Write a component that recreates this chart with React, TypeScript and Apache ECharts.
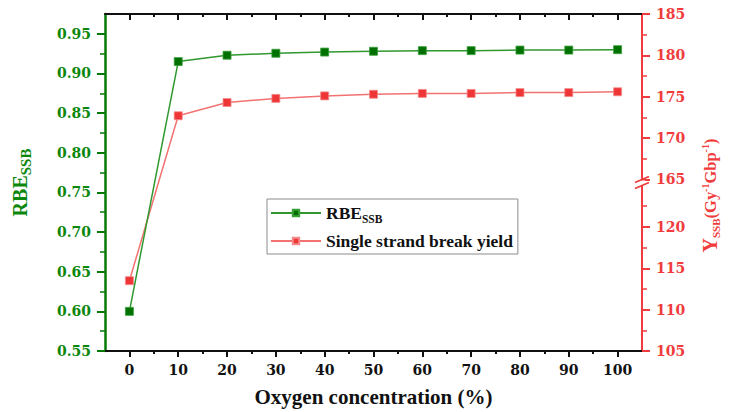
import React, { useEffect, useRef } from "react";
import * as echarts from "echarts";

// ---- data ----
const oxygen = [0, 10, 20, 30, 40, 50, 60, 70, 80, 90, 100];
const rbeSSB = [0.6, 0.915, 0.923, 0.9255, 0.927, 0.928, 0.9288, 0.9288, 0.9295, 0.9295, 0.93];
const ssbYield = [113.5, 172.7, 174.3, 174.8, 175.1, 175.3, 175.4, 175.4, 175.5, 175.5, 175.6];

// ---- ticks ----
const xMajorTicks = [0, 10, 20, 30, 40, 50, 60, 70, 80, 90, 100];
const xMinorTicks = [5, 15, 25, 35, 45, 55, 65, 75, 85, 95];
const leftMajorTicks = [0.55, 0.6, 0.65, 0.7, 0.75, 0.8, 0.85, 0.9, 0.95];
const leftMinorTicks = [0.575, 0.625, 0.675, 0.725, 0.775, 0.825, 0.875, 0.925];
const rightMajorTicks = [105, 110, 115, 120, 165, 170, 175, 180, 185];
const rightMinorTicks = [107.5, 112.5, 117.5, 122.5, 167.5, 172.5, 177.5, 182.5];
const rightBreakStart = 125;
const rightBreakEnd = 165;

const GREEN = "#0b870b";
const GREEN_AXIS = "#067a06";
const RED = "#f03c3c";
const TICK_FONT = "DejaVu Serif";
const SERIF = "Liberation Serif";

export default function App() {
  const ref = useRef<HTMLDivElement>(null);
  useEffect(() => {
    document.body.style.margin = "0";
    const chart = echarts.init(ref.current!, undefined, { renderer: "svg" });
    const xBase = {
      type: "value",
      min: -5,
      max: 105,
      splitLine: { show: false },
    };
    const rightBreaks = [{ start: rightBreakStart, end: rightBreakEnd, gap: "1.8%" }];
    const option: any = {
      animation: false,
      backgroundColor: "#ffffff",
      grid: { left: 105, right: 88, top: 14, bottom: 57 },
      legend: {
        orient: "vertical",
        left: 267,
        top: 199,
        itemWidth: 50,
        itemHeight: 8,
        itemGap: 7,
        padding: [5, 5, 4, 3],
        borderColor: "#8c8c8c",
        borderWidth: 1,
        data: ["RBE_SSB", "Single strand break yield"],
        formatter: (name: string) =>
          name === "RBE_SSB" ? "{a|RBE}{b|SSB}" : "{a|" + name + "}",
        textStyle: {
          color: "#111",
          rich: {
            a: { fontFamily: SERIF, fontWeight: "bold", fontSize: 17.5, lineHeight: 18, verticalAlign: "top", color: "#111" },
            b: { fontFamily: SERIF, fontWeight: "bold", fontSize: 11.5, lineHeight: 12, verticalAlign: "top", padding: [9, 0, 0, 0], color: "#111" },
          },
        },
      },
      xAxis: [
        {
          ...xBase,
          position: "bottom",
          name: "Oxygen concentration (%)",
          nameLocation: "middle",
          nameGap: 35,
          nameTextStyle: { fontFamily: SERIF, fontWeight: "bold", fontSize: 21, color: "#111" },
          axisLine: { show: true, onZero: false, lineStyle: { color: "#111", width: 2 } },
          axisTick: { show: true, length: 6, lineStyle: { color: "#111", width: 2 }, customValues: xMajorTicks },
          axisLabel: { show: true, margin: 12, fontFamily: TICK_FONT, fontWeight: "bold", fontSize: 14, color: "#111", customValues: xMajorTicks },
        },
        {
          ...xBase,
          position: "bottom",
          axisLine: { show: false, onZero: false },
          axisTick: { show: true, length: 3, lineStyle: { color: "#111", width: 2 }, customValues: xMinorTicks },
          axisLabel: { show: false },
        },
        {
          ...xBase,
          position: "top",
          axisLine: { show: true, onZero: false, lineStyle: { color: "#111", width: 2 } },
          axisTick: { show: true, inside: true, length: 6, lineStyle: { color: "#111", width: 2 }, customValues: xMajorTicks },
          axisLabel: { show: false },
        },
        {
          ...xBase,
          position: "top",
          axisLine: { show: false, onZero: false },
          axisTick: { show: true, inside: true, length: 3, lineStyle: { color: "#111", width: 2 }, customValues: xMinorTicks },
          axisLabel: { show: false },
        },
      ],
      yAxis: [
        {
          type: "value",
          position: "left",
          min: 0.55,
          max: 0.975,
          splitLine: { show: false },
          name: "{a|RBE}{b|SSB}",
          nameLocation: "middle",
          nameRotate: 90,
          nameGap: 75,
          nameTextStyle: {
            rich: {
              a: { fontFamily: SERIF, fontWeight: "bold", fontSize: 20, lineHeight: 20, verticalAlign: "top", color: GREEN },
              b: { fontFamily: SERIF, fontWeight: "bold", fontSize: 15, lineHeight: 15, verticalAlign: "top", padding: [8, 0, 0, 0], color: GREEN },
            },
          },
          axisLine: { show: true, onZero: false, lineStyle: { color: GREEN_AXIS, width: 2.5 } },
          axisTick: { show: true, length: 8, lineStyle: { color: GREEN_AXIS, width: 2 }, customValues: leftMajorTicks },
          axisLabel: {
            margin: 14,
            fontFamily: TICK_FONT,
            fontWeight: "bold",
            fontSize: 14,
            color: GREEN,
            customValues: leftMajorTicks,
            formatter: (v: number) => v.toFixed(2),
          },
        },
        {
          type: "value",
          position: "right",
          min: 105,
          max: 185,
          breaks: rightBreaks,
          breakArea: { show: false },
          splitLine: { show: false },
          name: "{y|Y}{s|SSB}{n|(Gy}{p|-1}{n|Gbp}{p|-1}{n|)}",
          nameLocation: "middle",
          nameRotate: 90,
          nameGap: 58,
          nameTextStyle: {
            padding: [0, 26, 0, 0],
            rich: {
              y: { fontFamily: SERIF, fontWeight: "bold", fontSize: 20, lineHeight: 20, verticalAlign: "top", color: RED },
              s: { fontFamily: SERIF, fontWeight: "bold", fontSize: 11, lineHeight: 12, verticalAlign: "top", padding: [10, 0, 0, 0], color: RED },
              n: { fontFamily: SERIF, fontWeight: "bold", fontSize: 16.5, lineHeight: 20, verticalAlign: "top", padding: [2, 0, 0, 0], color: RED },
              p: { fontFamily: SERIF, fontWeight: "bold", fontSize: 10, lineHeight: 10, verticalAlign: "top", color: RED },
            },
          },
          axisLine: { show: true, onZero: false, lineStyle: { color: RED, width: 2 } },
          axisTick: { show: true, length: 8, lineStyle: { color: RED, width: 2 }, customValues: rightMajorTicks },
          axisLabel: {
            margin: 14,
            fontFamily: TICK_FONT,
            fontWeight: "bold",
            fontSize: 14,
            color: RED,
            customValues: rightMajorTicks,
          },
        },
        {
          type: "value",
          position: "left",
          min: 0.55,
          max: 0.975,
          splitLine: { show: false },
          axisLine: { show: false, onZero: false },
          axisTick: { show: true, length: 5, lineStyle: { color: GREEN_AXIS, width: 1.5 }, customValues: leftMinorTicks },
          axisLabel: { show: false },
        },
        {
          type: "value",
          position: "right",
          min: 105,
          max: 185,
          breaks: rightBreaks,
          breakArea: { show: false },
          splitLine: { show: false },
          axisLine: { show: false, onZero: false },
          axisTick: { show: true, length: 5, lineStyle: { color: RED, width: 1.5 }, customValues: rightMinorTicks },
          axisLabel: { show: false },
        },
      ],
      series: [
        {
          name: "RBE_SSB",
          type: "line",
          xAxisIndex: 0,
          yAxisIndex: 0,
          data: oxygen.map((x, i) => [x, rbeSSB[i]]),
          symbol: "rect",
          symbolSize: 8,
          lineStyle: { color: "#2f982f", width: 1.5 },
          itemStyle: { color: "#007000", borderColor: "#3aa03a", borderWidth: 0.8 },
          z: 3,
        },
        {
          name: "Single strand break yield",
          type: "line",
          xAxisIndex: 0,
          yAxisIndex: 1,
          data: oxygen.map((x, i) => [x, ssbYield[i]]),
          symbol: "rect",
          symbolSize: 8,
          lineStyle: { color: "#f27272", width: 1.5 },
          itemStyle: { color: "#ee3636", borderColor: "#f58a8a", borderWidth: 0.8 },
          z: 2,
        },
      ],
    };
    chart.setOption(option);

    // break mark on the right axis
    const xr = chart.convertToPixel({ xAxisIndex: 0 }, 105) as number;
    const yHi = chart.convertToPixel({ yAxisIndex: 1 }, rightBreakEnd) as number;
    const yLo = chart.convertToPixel({ yAxisIndex: 1 }, rightBreakStart) as number;
    if (isFinite(xr) && isFinite(yHi) && isFinite(yLo)) {
      chart.setOption({
        graphic: [
          {
            type: "rect",
            shape: { x: xr - 3, y: yHi + 1, width: 6, height: Math.max(yLo - yHi - 2, 2) },
            style: { fill: "#ffffff" },
            z: 100,
          },
          {
            type: "line",
            shape: { x1: xr - 7, y1: yHi + 3, x2: xr + 7, y2: yHi - 3 },
            style: { stroke: RED, lineWidth: 1.8 },
            z: 101,
          },
          {
            type: "line",
            shape: { x1: xr - 7, y1: yLo + 3, x2: xr + 7, y2: yLo - 3 },
            style: { stroke: RED, lineWidth: 1.8 },
            z: 101,
          },
        ],
      });
    }
    return () => chart.dispose();
  }, []);
  return (
    <div
      ref={ref}
      style={{ position: "fixed", left: 0, top: 0, width: 730, height: 412, background: "#fff" }}
    />
  );
}
